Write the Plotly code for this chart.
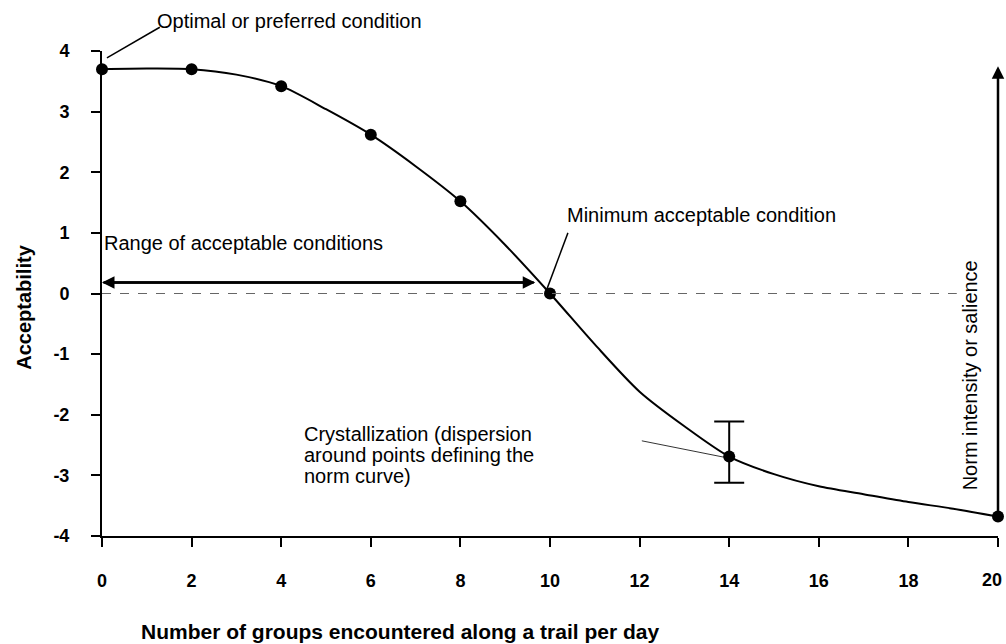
import plotly.graph_objects as go

# Measured norm points
point_x = [0, 2, 4, 6, 8, 10, 14, 20]
point_y = [3.7, 3.7, 3.42, 2.62, 1.52, 0.0, -2.69, -3.68]

# Smooth norm curve
curve_x = [0, 1, 2, 3, 4, 5, 6, 7, 8, 9, 10, 11, 12, 13, 14, 15, 16, 17, 18, 19, 20]
curve_y = [3.7, 3.71, 3.7, 3.61, 3.42, 3.04, 2.62, 2.1, 1.52, 0.8, 0.0, -0.84, -1.62, -2.19, -2.69, -2.98, -3.18, -3.31, -3.44, -3.55, -3.68]

# Dispersion (crystallization) at x = 14
err_x = [14]
err_y = [-2.69]
err_plus = [0.58]
err_minus = [0.43]

x_ticks = [0, 2, 4, 6, 8, 10, 12, 14, 16, 18, 20]
y_ticks = [-4, -3, -2, -1, 0, 1, 2, 3, 4]

FONT = "Liberation Sans"

fig = go.Figure()

fig.add_trace(go.Scatter(
    x=curve_x, y=curve_y, mode="lines",
    line=dict(color="black", width=2, shape="spline", smoothing=0.8),
    hoverinfo="skip", showlegend=False, cliponaxis=False,
))
fig.add_trace(go.Scatter(
    x=err_x, y=err_y, mode="markers",
    marker=dict(size=1, color="black"),
    error_y=dict(type="data", symmetric=False, array=err_plus, arrayminus=err_minus,
                 color="black", thickness=2, width=15),
    showlegend=False, cliponaxis=False,
))
fig.add_trace(go.Scatter(
    x=point_x, y=point_y, mode="markers",
    marker=dict(size=12, color="black"),
    showlegend=False, cliponaxis=False,
))

# dashed zero line
fig.add_shape(type="line", x0=0, x1=19.08, y0=0, y1=0, xref="x", yref="y",
              line=dict(color="#666666", width=1, dash="dash"))

# leader lines
fig.add_shape(type="line", x0=0.0055, y0=0.986, x1=0.0645, y1=1.049,
              xref="paper", yref="paper", line=dict(color="black", width=1.5))
fig.add_shape(type="line", x0=10.4, y0=1.0, x1=9.93, y1=0.07,
              line=dict(color="black", width=1.5))
fig.add_shape(type="line", x0=12.05, y0=-2.43, x1=13.95, y1=-2.71,
              line=dict(color="black", width=0.8))

# double-headed range arrow
for (xa, xb) in [(0, 9.67), (9.67, 0)]:
    fig.add_annotation(x=xb, y=0.18, ax=xa, ay=0.18, xref="x", yref="y",
                       axref="x", ayref="y", text="", showarrow=True,
                       arrowhead=2, arrowsize=1, arrowwidth=2.5, arrowcolor="black")

# vertical norm-intensity arrow
fig.add_annotation(x=20, y=3.75, ax=20, ay=-3.68, xref="x", yref="y",
                   axref="x", ayref="y", text="", showarrow=True,
                   arrowhead=2, arrowsize=1, arrowwidth=2.5, arrowcolor="black")

txt = dict(family=FONT, size=20, color="black")

fig.add_annotation(x=0.059, y=1.061, xref="paper", yref="paper",
                   text="Optimal or preferred condition", showarrow=False,
                   xanchor="left", yanchor="middle", font=txt)
fig.add_annotation(x=0, y=0.83, text="Range of acceptable conditions", showarrow=False,
                   xanchor="left", yanchor="middle", font=txt)
fig.add_annotation(x=10.33, y=1.29, text="Minimum acceptable condition", showarrow=False,
                   xanchor="left", yanchor="middle", font=txt)
for i, line in enumerate(["Crystallization (dispersion", "around points defining the", "norm curve)"]):
    fig.add_annotation(x=4.46, y=-2.31 - i * 0.35, text=line, showarrow=False,
                       xanchor="left", yanchor="middle", font=txt)
fig.add_annotation(x=19.375, y=-1.35, text="Norm intensity or salience", showarrow=False,
                   textangle=-90, xanchor="center", yanchor="middle", font=txt)

# axis titles
fig.add_annotation(x=-0.088, y=0.471, xref="paper", yref="paper",
                   text="<b>Acceptability</b>", showarrow=False,
                   textangle=-90, xanchor="center", yanchor="middle",
                   font=dict(family=FONT, size=20, color="black"))
fig.add_annotation(x=6.65 / 20, y=-0.197, xref="paper", yref="paper",
                   text="<b>Number of groups encountered along a trail per day</b>",
                   showarrow=False, xanchor="center", yanchor="middle",
                   font=dict(family=FONT, size=21, color="black"))

tickfont = dict(family=FONT, size=18, color="black", weight="bold")

# last x tick label sits flush with the right edge, so it is drawn as a label of its own
x_ticktext = [str(v) for v in x_ticks[:-1]] + [""]
fig.add_annotation(x=x_ticks[-1], y=-4, xref="x", yref="y", text=str(x_ticks[-1]),
                   showarrow=False, xanchor="right", yanchor="middle",
                   xshift=6, yshift=-44, font=tickfont)

fig.update_xaxes(range=[0, 20], tickvals=x_ticks, ticktext=x_ticktext,
                 showgrid=False, zeroline=False, showline=True, linecolor="black",
                 linewidth=2, ticks="outside", ticklen=9, tickwidth=2, tickcolor="black",
                 tickfont=tickfont, ticklabelstandoff=18, automargin=False)
fig.update_yaxes(range=[-4, 4], tickvals=y_ticks, ticktext=[str(v) for v in y_ticks],
                 showgrid=False, zeroline=False, showline=True, linecolor="black",
                 linewidth=2, ticks="outside", ticklen=9, tickwidth=2, tickcolor="black",
                 tickfont=tickfont, ticklabelstandoff=18, automargin=False)

fig.update_layout(
    width=1006, height=644,
    margin=dict(l=102, r=8, t=51, b=108, autoexpand=False),
    plot_bgcolor="white", paper_bgcolor="white",
    showlegend=False,
)

fig.write_html("out.html", config={"displayModeBar": False},
               post_script="document.body.style.margin='0';")
